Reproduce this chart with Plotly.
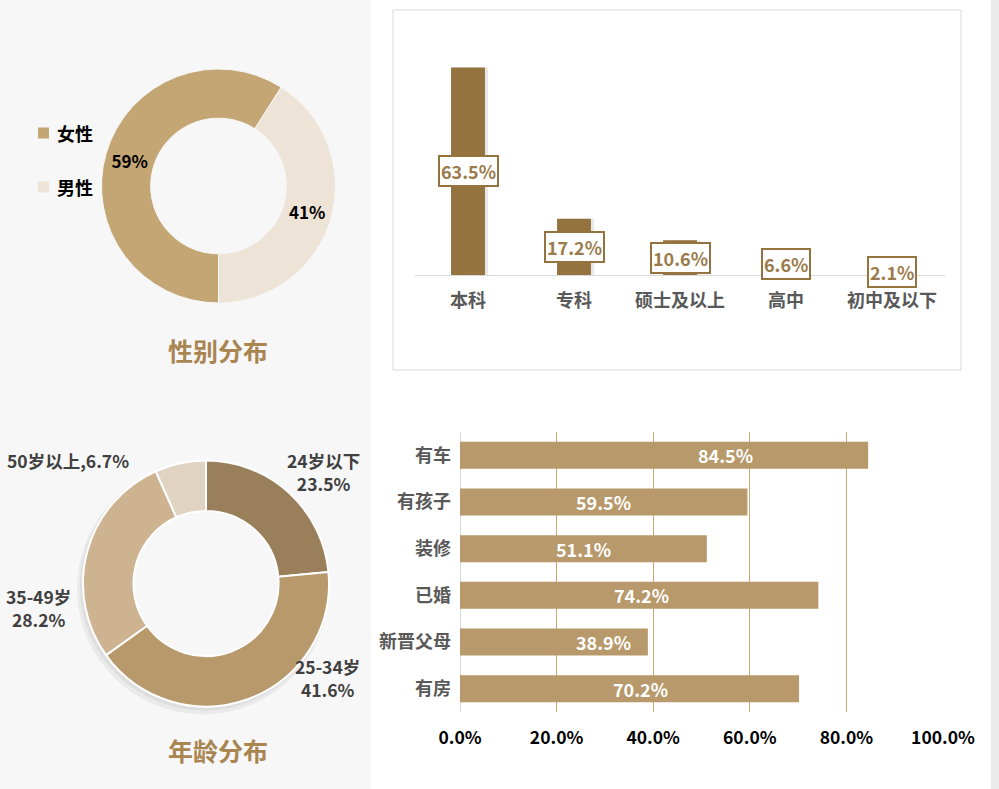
import plotly.graph_objects as go

# ---------------- data ----------------
gender_labels = ["女性", "男性"]
gender_values = [59, 41]

edu_categories = ["本科", "专科", "硕士及以上", "高中", "初中及以下"]
edu_values = [63.5, 17.2, 10.6, 6.6, 2.1]

age_labels = ["24岁以下", "25-34岁", "35-49岁", "50岁以上"]
age_values = [23.5, 41.6, 28.2, 6.7]

own_categories = ["有车", "有孩子", "装修", "已婚", "新晋父母", "有房"]
own_values = [84.5, 59.5, 51.1, 74.2, 38.9, 70.2]
own_label_x = [55.0, 29.8, 25.5, 37.5, 29.8, 37.3]   # where the in-bar labels sit

x_tick_vals = [0, 20, 40, 60, 80, 100]
x_tick_text = [f"{v:.1f}%" for v in x_tick_vals]

# ---------------- styles ----------------
W, H = 999, 789
FONT = "Microsoft YaHei, Noto Sans CJK SC, sans-serif"
TITLE_C = "#a98552"
GENDER_C = ["#c4a574", "#ede3d6"]
AGE_C = ["#9a7f5b", "#b8996b", "#cdb390", "#e0d3c1"]
EDU_C = "#94733f"
OWN_C = "#b8996b"


def px(x):
    return x / W


def py(y):
    return 1 - y / H


def dom_circle(cx, cy, r):
    return dict(x=[px(cx - r), px(cx + r)], y=[py(cy + r), py(cy - r)])


fig = go.Figure()

# gender donut
fig.add_trace(go.Pie(
    labels=gender_labels, values=gender_values, sort=False, direction="clockwise",
    rotation=180, hole=0.58, domain=dom_circle(218.5, 186, 117),
    marker=dict(colors=GENDER_C, line=dict(color="#f7f7f7", width=1)),
    texttemplate="%{value}%", textposition="inside",
    insidetextorientation="horizontal", automargin=False,
    textfont=dict(family=FONT, size=17, color="#000000", weight="bold"),
    showlegend=False, hoverinfo="label+value",
))

# age donut shadow
for dx, dy, r, a in [(-3, 5, 126, 0.05), (-2, 3, 124, 0.05)]:
    fig.add_trace(go.Pie(
        values=[1], sort=False, hole=0.62, domain=dom_circle(206 + dx, 583.5 + dy, r),
        marker=dict(colors=[f"rgba(0,0,0,{a})"], line=dict(width=0)),
        textinfo="none", showlegend=False, hoverinfo="skip", automargin=False,
    ))

# age donut
fig.add_trace(go.Pie(
    labels=age_labels, values=age_values, sort=False, direction="clockwise",
    rotation=0, hole=0.59, domain=dom_circle(206, 583.5, 123),
    marker=dict(colors=AGE_C, line=dict(color="#ffffff", width=2)),
    textinfo="none", showlegend=False, hoverinfo="label+value", automargin=False,
))

# education bars (shadow + bar)
fig.add_trace(go.Bar(
    x=edu_categories, y=edu_values, width=0.32, offset=-0.16 + 0.03,
    marker=dict(color="rgba(0,0,0,0.09)", line=dict(width=0)),
    xaxis="x", yaxis="y", showlegend=False, hoverinfo="skip",
))
fig.add_trace(go.Bar(
    x=edu_categories, y=edu_values, width=0.32, offset=-0.16,
    marker=dict(color=EDU_C, line=dict(width=0)),
    xaxis="x", yaxis="y", showlegend=False,
))

# ownership horizontal bars
fig.add_trace(go.Bar(
    x=own_values, y=own_categories, orientation="h",
    marker=dict(color=OWN_C, line=dict(width=0)),
    xaxis="x2", yaxis="y2", showlegend=False,
))

annotations = []
shapes = []

# backgrounds
shapes.append(dict(type="rect", xref="paper", yref="paper", x0=0, x1=px(371), y0=0, y1=1,
                   fillcolor="#f7f7f7", line=dict(width=0), layer="below"))
shapes.append(dict(type="rect", xref="paper", yref="paper", x0=px(991), x1=1, y0=0, y1=1,
                   fillcolor="#ebebeb", line=dict(width=0), layer="below"))
shapes.append(dict(type="rect", xref="paper", yref="paper", x0=px(393), x1=px(961),
                   y0=py(370), y1=py(10), fillcolor="rgba(0,0,0,0)",
                   line=dict(color="#d9d9d9", width=1), layer="below"))

# gender legend (manual)
for i, (lab, col) in enumerate(zip(gender_labels, GENDER_C)):
    yc = 133 + i * 54
    shapes.append(dict(type="rect", xref="paper", yref="paper", x0=px(38), x1=px(49),
                       y0=py(yc + 5.5), y1=py(yc - 5.5), fillcolor=col, line=dict(width=0)))
    annotations.append(dict(text=lab, xref="paper", yref="paper", x=px(55), y=py(yc),
                            xanchor="left", yanchor="middle", showarrow=False,
                            font=dict(family=FONT, size=18, color="#000000", weight="bold")))

# titles
for t, yc in [("性别分布", 350), ("年龄分布", 750)]:
    annotations.append(dict(text=t, xref="paper", yref="paper", x=px(218), y=py(yc),
                            xanchor="center", yanchor="middle", showarrow=False,
                            font=dict(family=FONT, size=25, color=TITLE_C, weight="bold")))

# age labels
age_label_pos = [(323, 472), (327, 678), (38, 608), (68, 460)]
for i, (lab, v) in enumerate(zip(age_labels, age_values)):
    txt = f"{lab},{v}%" if i == 3 else f"{lab}<br>{v}%"
    x, y = age_label_pos[i]
    annotations.append(dict(text=txt, xref="paper", yref="paper", x=px(x), y=py(y),
                            xanchor="center", yanchor="middle", showarrow=False, align="center",
                            font=dict(family=FONT, size=17.5, color="#404040", weight="bold")))

# edu value boxes
for c, v in zip(edu_categories, edu_values):
    annotations.append(dict(text=f"{v}%", xref="x", yref="y", x=c, y=v / 2,
                            xanchor="center", yanchor="middle", showarrow=False,
                            bgcolor="#ffffff", bordercolor=EDU_C, borderwidth=2, borderpad=1,
                            font=dict(family=FONT, size=18, color="#9b7b4b", weight="bold")))

# own value labels
for c, v, lx in zip(own_categories, own_values, own_label_x):
    annotations.append(dict(text=f"{v}%", xref="x2", yref="y2", x=lx, y=c,
                            xanchor="center", yanchor="middle", showarrow=False,
                            font=dict(family=FONT, size=18, color="#ffffff", weight="bold")))

fig.update_layout(
    width=W, height=H, autosize=False,
    margin=dict(l=0, r=0, t=0, b=0, pad=0, autoexpand=False),
    paper_bgcolor="#ffffff", plot_bgcolor="rgba(0,0,0,0)",
    barmode="overlay", bargap=0.42,
    font=dict(family=FONT),
    xaxis=dict(domain=[px(415), px(945)], anchor="y", showgrid=False, zeroline=False,
               showline=True, linecolor="#d9d9d9", linewidth=1, ticks="",
               ticklabelstandoff=9, automargin=False,
               tickfont=dict(family=FONT, size=18, color="#595959", weight="bold"),
               fixedrange=True),
    yaxis=dict(domain=[py(275), py(30)], anchor="x", range=[0, 75], visible=False,
               fixedrange=True, automargin=False),
    xaxis2=dict(domain=[px(460), px(943)], anchor="y2", range=[0, 100],
                tickmode="array", tickvals=x_tick_vals, ticktext=x_tick_text,
                showgrid=True, gridcolor="#c9a875", gridwidth=1,
                zeroline=True, zerolinecolor="#d9d9d9", zerolinewidth=1,
                showline=False, ticks="", ticklabelstandoff=13, automargin=False,
                tickfont=dict(family=FONT, size=17.5, color="#000000", weight="bold"),
                fixedrange=True),
    yaxis2=dict(domain=[py(712), py(432)], anchor="x2", autorange="reversed",
                categoryorder="array", categoryarray=own_categories,
                showgrid=False, zeroline=False, showline=False, ticks="",
                ticklabelstandoff=8, automargin=False,
                tickfont=dict(family=FONT, size=18, color="#595959", weight="bold"),
                fixedrange=True),
    shapes=shapes, annotations=annotations,
)

fig.write_html("out.html", config={"responsive": False, "displayModeBar": False},
               post_script="document.body.style.margin='0';document.body.style.overflow='hidden';")
